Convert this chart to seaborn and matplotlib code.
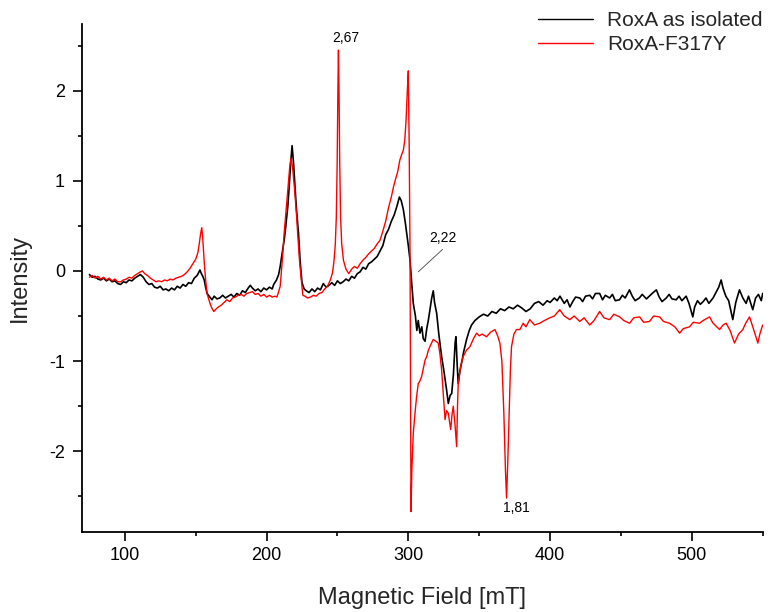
import numpy as np
import pandas as pd
import matplotlib
matplotlib.use("Agg")
import matplotlib.pyplot as plt
import seaborn as sns
from matplotlib.ticker import MultipleLocator

# ---------------- data ----------------
series_names = ["RoxA as isolated", "RoxA-F317Y"]
series_colors = ["#000000", "#ff0000"]

iso_field = [75, 77, 79, 81, 83, 85, 87, 89, 91, 93, 95, 97, 99, 101, 103, 105, 107, 109, 111, 113,
             115, 117, 119, 121, 123, 125, 127, 129, 131, 133, 135, 137, 139, 141, 143, 145, 147, 149,
             151, 153, 154, 155, 156, 157, 158, 160, 161.5, 163, 165, 167, 169, 171, 173, 175, 177,
             179, 181, 183, 185, 187, 188.5, 190, 192, 194, 196, 198, 200, 202, 204, 205, 207, 208.5,
             209.6, 211, 212.5, 213.5, 215, 216, 217, 218, 219, 220, 221, 222.5, 223.7, 225, 226.5,
             228, 230, 232, 234, 236, 238, 240, 242, 244, 246, 248, 250, 252, 254, 256, 258, 260, 262,
             264, 266, 268, 270, 272, 274, 276, 278, 280, 282, 284, 286, 288, 290, 292, 293.7, 295,
             296.5, 298, 299, 300, 301.2, 302.4, 303.5, 305, 306, 307, 308.2, 309.5, 310.5, 311.8, 313,
             314.1, 315.5, 316.5, 317.6, 318.5, 320, 321.5, 323.5, 325, 326, 327, 328.2, 329.5, 330.6,
             331.8, 333, 333.6, 334.5, 335.2, 336.5, 337.6, 339, 341.1, 343, 344.6, 347, 350, 353, 356,
             359, 362, 365, 368, 371, 374, 377, 380, 383, 386, 389, 392, 395, 398, 400, 403, 405, 407,
             410, 412, 414, 416, 418, 421, 423, 425, 428, 430, 432, 435, 437, 439, 442, 444, 446, 449,
             451, 453, 456, 458, 460, 463, 465, 468, 470, 472, 475, 477, 479, 482, 484, 486, 489, 491,
             493, 496, 498, 500.7, 502, 504, 506, 508, 510, 512, 515, 517, 519, 520.7, 522, 524, 526,
             528.9, 531, 533.6, 536, 538.3, 540, 543, 545, 547, 549, 550]
iso_intensity = [-0.04, -0.07, -0.06, -0.09, -0.10, -0.08, -0.11, -0.09, -0.12, -0.11, -0.14, -0.15,
                 -0.12, -0.13, -0.10, -0.11, -0.08, -0.06, -0.04, -0.07, -0.12, -0.15, -0.14, -0.18,
                 -0.19, -0.17, -0.21, -0.20, -0.22, -0.19, -0.21, -0.17, -0.19, -0.15, -0.17, -0.13,
                 -0.14, -0.08, -0.05, 0.01, -0.03, -0.06, -0.10, -0.18, -0.25, -0.29, -0.32, -0.28,
                 -0.31, -0.30, -0.27, -0.30, -0.28, -0.26, -0.29, -0.25, -0.27, -0.22, -0.24, -0.19,
                 -0.16, -0.19, -0.22, -0.20, -0.23, -0.19, -0.21, -0.18, -0.20, -0.15, -0.10, -0.04,
                 0.05, 0.20, 0.35, 0.49, 0.72, 0.95, 1.20, 1.39, 1.20, 0.95, 0.70, 0.42, 0.10, -0.13,
                 -0.20, -0.22, -0.24, -0.20, -0.23, -0.19, -0.21, -0.14, -0.18, -0.16, -0.13, -0.16,
                 -0.11, -0.14, -0.12, -0.09, -0.11, -0.06, -0.08, -0.03, -0.01, 0.04, 0.02, 0.08, 0.10,
                 0.13, 0.16, 0.22, 0.28, 0.40, 0.46, 0.55, 0.62, 0.72, 0.82, 0.78, 0.68, 0.52, 0.40,
                 0.28, 0.12, -0.14, -0.36, -0.50, -0.66, -0.55, -0.69, -0.62, -0.75, -0.78, -0.64,
                 -0.55, -0.40, -0.30, -0.22, -0.35, -0.47, -0.70, -0.95, -1.10, -1.21, -1.32, -1.47,
                 -1.38, -1.36, -1.15, -0.80, -0.73, -1.05, -1.25, -1.10, -1.02, -0.90, -0.76, -0.66,
                 -0.60, -0.55, -0.51, -0.48, -0.50, -0.45, -0.47, -0.42, -0.44, -0.40, -0.42, -0.38,
                 -0.41, -0.45, -0.42, -0.36, -0.34, -0.38, -0.33, -0.35, -0.30, -0.33, -0.28, -0.36,
                 -0.32, -0.40, -0.34, -0.29, -0.30, -0.34, -0.28, -0.27, -0.31, -0.25, -0.25, -0.32,
                 -0.27, -0.30, -0.26, -0.33, -0.32, -0.27, -0.30, -0.21, -0.28, -0.33, -0.30, -0.26,
                 -0.31, -0.28, -0.25, -0.21, -0.29, -0.34, -0.30, -0.26, -0.31, -0.32, -0.28, -0.33,
                 -0.28, -0.36, -0.51, -0.40, -0.33, -0.37, -0.34, -0.30, -0.36, -0.30, -0.24, -0.18,
                 -0.10, -0.19, -0.28, -0.33, -0.54, -0.35, -0.21, -0.30, -0.36, -0.28, -0.43, -0.30,
                 -0.26, -0.33, -0.25]

mut_field = [75, 77, 79, 81, 83, 85, 87, 89, 91, 93, 95, 97, 99, 101, 103, 105, 107, 109, 111, 112.5,
             114, 116, 118, 120, 122, 124, 126, 128, 130, 132, 134, 136, 138, 140, 142, 144, 146, 148,
             150, 151.5, 152.5, 153.5, 154.3, 155, 156, 157, 158, 159.5, 161, 162.7, 164.5, 166, 168,
             170, 172, 174, 176, 178, 180, 182, 184, 186, 188, 190, 192, 194, 196, 198, 200, 202, 204,
             206, 207.3, 208.5, 209.6, 211, 212.4, 213.5, 215, 216.3, 217.2, 218.3, 219.5, 221, 222,
             223.2, 224.5, 225.6, 227, 229, 231, 233, 235, 237, 239, 241, 243, 245, 246.5, 247.5, 248.5,
             249.2, 249.8, 250.3, 250.7, 251.1, 251.6, 252.2, 253, 254.2, 256, 258, 260, 262, 264, 266,
             268, 270, 272, 274, 276, 278, 280, 282, 284, 286, 288, 289.5, 291, 292.5, 294, 295.5,
             296.5, 297.5, 298.4, 299.3, 300, 300.6, 301.2, 301.6, 301.9, 302.5, 303.5, 304.7, 305.8,
             307, 308.2, 309.4, 310.6, 311.8, 313, 314.1, 315.8, 317.6, 319.5, 321.1, 322.3, 323.5,
             324.8, 325.9, 327, 328.2, 329.9, 330.8, 331.7, 332.9, 334.1, 334.7, 335.2, 337, 338.7, 341,
             343.5, 346, 348.2, 350, 352, 355.2, 358, 361.1, 363, 364.6, 366, 367.4, 368.5, 369.3,
             370.2, 371.1, 372, 372.8, 374.5, 376.3, 378.7, 381, 383, 385.7, 389, 392.7, 396, 399.8,
             403, 406.8, 410, 413.9, 417, 420.9, 424, 428, 431, 435, 438, 442, 445, 449.1, 452, 456.1,
             459, 463.2, 466, 470.2, 473, 477.3, 480, 484.3, 488, 491.4, 494, 498.4, 501, 505.5, 508,
             512.5, 515, 519.6, 522, 524.2, 527, 530.1, 533, 536, 538, 540.7, 543, 546.6, 548, 550]
mut_intensity = [-0.07, -0.05, -0.08, -0.06, -0.09, -0.07, -0.10, -0.08, -0.11, -0.09, -0.12, -0.12,
                 -0.10, -0.09, -0.07, -0.08, -0.05, -0.03, -0.01, 0.00, -0.03, -0.05, -0.08, -0.10,
                 -0.12, -0.11, -0.12, -0.10, -0.11, -0.09, -0.10, -0.08, -0.07, -0.06, -0.04, -0.01,
                 0.03, 0.08, 0.13, 0.20, 0.30, 0.42, 0.48, 0.35, 0.10, -0.10, -0.25, -0.33, -0.40,
                 -0.45, -0.42, -0.40, -0.38, -0.35, -0.32, -0.34, -0.30, -0.29, -0.27, -0.26, -0.28,
                 -0.25, -0.24, -0.23, -0.26, -0.25, -0.28, -0.26, -0.29, -0.27, -0.29, -0.28, -0.29,
                 -0.23, -0.17, 0.10, 0.42, 0.62, 0.90, 1.15, 1.25, 1.15, 0.95, 0.65, 0.40, 0.12, -0.10,
                 -0.27, -0.28, -0.30, -0.29, -0.27, -0.28, -0.25, -0.24, -0.20, -0.17, -0.10, -0.02,
                 0.10, 0.30, 0.60, 1.20, 2.00, 2.45, 2.00, 1.20, 0.60, 0.30, 0.12, 0.02, -0.03, 0.02,
                 0.05, 0.03, 0.08, 0.12, 0.15, 0.19, 0.22, 0.25, 0.30, 0.34, 0.44, 0.55, 0.70, 0.82,
                 0.93, 1.02, 1.10, 1.23, 1.30, 1.34, 1.45, 1.67, 2.00, 2.22, 1.40, 0.20, -1.50, -2.67,
                 -2.20, -1.80, -1.58, -1.40, -1.25, -1.22, -1.17, -1.08, -0.99, -0.95, -0.88, -0.82,
                 -0.76, -0.78, -0.80, -0.92, -1.10, -1.40, -1.65, -1.55, -1.58, -1.76, -1.60, -1.50,
                 -1.70, -1.95, -1.50, -1.25, -1.05, -0.95, -0.88, -0.84, -0.75, -0.69, -0.72, -0.70,
                 -0.73, -0.68, -0.65, -0.72, -0.80, -1.00, -1.58, -2.20, -2.52, -2.10, -1.58, -1.10,
                 -0.84, -0.70, -0.65, -0.65, -0.58, -0.62, -0.54, -0.60, -0.58, -0.55, -0.52, -0.50,
                 -0.43, -0.50, -0.54, -0.50, -0.56, -0.52, -0.60, -0.55, -0.45, -0.52, -0.54, -0.48,
                 -0.51, -0.55, -0.58, -0.52, -0.51, -0.57, -0.56, -0.50, -0.51, -0.56, -0.58, -0.62,
                 -0.69, -0.64, -0.62, -0.57, -0.58, -0.55, -0.51, -0.58, -0.65, -0.60, -0.58, -0.66,
                 -0.80, -0.70, -0.65, -0.58, -0.51, -0.62, -0.80, -0.70, -0.60]

x_ticks = [100, 200, 300, 400, 500]
y_ticks = [-2, -1, 0, 1, 2]
peak_labels = ["2,67", "2,22", "1,81"]
peak_label_pos = [(255.9, 2.58), (324.6, 0.37), (376.3, -2.63)]
leader_line = ([307.0, 324.2], [-0.01, 0.24])

# ---------------- style ----------------
sns.set_style("ticks")
plt.rcParams["font.family"] = ["Liberation Sans", "DejaVu Sans"]
plt.rcParams["axes.unicode_minus"] = False

fig = plt.figure(figsize=(7.7, 6.12), dpi=100)
ax = fig.add_axes([0.1069, 0.1302, 0.9905 - 0.1069, 0.9608 - 0.1302])

df = pd.concat([
    pd.DataFrame({"field": iso_field, "intensity": iso_intensity, "sample": series_names[0]}),
    pd.DataFrame({"field": mut_field, "intensity": mut_intensity, "sample": series_names[1]}),
])

sns.lineplot(data=df, x="field", y="intensity", hue="sample", hue_order=series_names,
             palette=series_colors, estimator=None, sort=True, linewidth=1.0, ax=ax)
ax.lines[0].set_linewidth(1.2)

ax.set_xlim(70, 550)
ax.set_ylim(-2.9, 2.74)
ax.set_xticks(x_ticks)
ax.set_yticks(y_ticks)
ax.set_yticklabels([str(v) for v in y_ticks])
ax.xaxis.set_minor_locator(MultipleLocator(50))
ax.yaxis.set_minor_locator(MultipleLocator(0.5))

for s in ["top", "right"]:
    ax.spines[s].set_visible(False)
for s in ["left", "bottom"]:
    ax.spines[s].set_linewidth(1.3)
    ax.spines[s].set_color("black")

ax.tick_params(axis="both", which="major", direction="out", length=6.5, width=1.2,
               labelsize=13, colors="black")
ax.tick_params(axis="both", which="minor", direction="out", length=3, width=1.2, colors="black")
ax.tick_params(axis="x", which="major", pad=4)
ax.tick_params(axis="y", which="major", pad=6)

ax.set_xlabel("Magnetic Field [mT]", fontsize=17)
ax.set_ylabel("Intensity", fontsize=17)
ax.xaxis.set_label_coords(0.5, -0.108)
ax.yaxis.set_label_coords(-0.075, 0.5)

for lab, (px, py) in zip(peak_labels, peak_label_pos):
    ax.text(px, py, lab, ha="center", va="center", fontsize=10, color="black")
ax.plot(leader_line[0], leader_line[1], color="#444444", linewidth=0.6)

handles, labels = ax.get_legend_handles_labels()
ax.legend(handles, labels, loc="center left", bbox_to_anchor=(0.6987, 0.9468),
          bbox_transform=fig.transFigure, frameon=False, fontsize=15, borderpad=0,
          borderaxespad=0, handlelength=2.64, handletextpad=0.67, labelspacing=0.24)

fig.savefig("out.png", dpi=100)
